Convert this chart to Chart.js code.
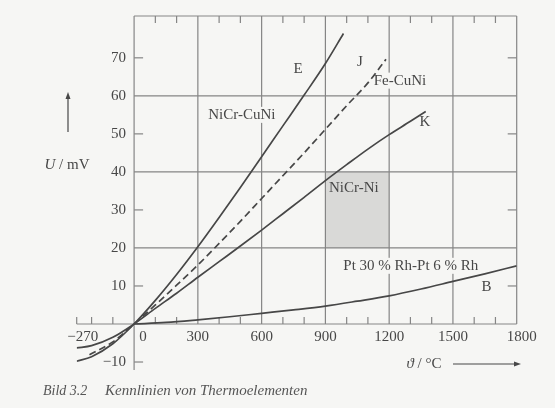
<!DOCTYPE html>
<html><head><meta charset="utf-8">
<script src="https://cdn.jsdelivr.net/npm/chart.js@4/dist/chart.umd.min.js"></script>
<style>html,body{margin:0;padding:0;background:#f6f6f4;}#wrap{width:555px;height:408px;position:relative;}</style>
</head><body><div id="wrap"><canvas id="c"></canvas></div>
<script>
// Temperatures (°C) and thermo-voltages (mV)
const tempE = [-270,-200,-100,0,100,200,300,400,500,600,700,800,900,985];
const voltE = [-9.8,-8.6,-5.2,0,6.2,13.0,20.3,28.0,35.9,44.0,52.1,60.2,68.5,76.4];
const tempJ = [-210,-100,0,100,200,300,400,500,600,700,800,900,1000,1100,1185];
const voltJ = [-8.1,-4.7,0,5.0,10.2,15.5,21.2,27.0,33.0,39.0,45.0,51.2,57.4,63.4,69.6];
const tempK = [-270,-200,-100,0,100,200,300,400,500,600,700,800,900,1000,1100,1200,1300,1372];
const voltK = [-6.3,-5.7,-3.5,0,4.1,8.1,12.3,16.4,20.5,24.7,29.0,33.3,37.7,41.9,46.0,49.8,53.3,55.9];
const tempB = [0,150,300,450,600,750,900,1050,1200,1350,1500,1650,1800];
const voltB = [0,0.4,1.1,1.9,2.8,3.7,4.7,6.0,7.4,9.2,11.2,13.2,15.3];

const xLabelTicks = [-270,0,300,600,900,1200,1500,1800];
const xMinorTicks = [-270,-200,-100,100,200,400,500,700,800,1000,1100,1300,1400,1600,1700];
const xGridLines = [300,600,900,1200,1500];
const yLabelTicks = [-10,10,20,30,40,50,60,70];
const yMinorTicks = [-10,10,30,50,70];
const yGridLines = [20,40,60];
const shadeTemp = [900,1200];
const shadeVolt = [20,40];

const curveNames = ['E','J','K','B'];
const labelTexts = ['NiCr-CuNi','E','J','Fe-CuNi','K','NiCr-Ni','Pt 30 % Rh-Pt 6 % Rh','B'];
const labelTemps = [507,772,1062,1251,1368,1034,1302,1658];
const labelVolts = [55.0,67.0,69.0,64.0,53.0,35.7,15.3,9.7];

const pts = (t,v) => t.map((x,i)=>({x:x,y:v[i]}));
const INK = '#474747', GRID = '#858585', BG = '#f6f6f4';
const SERIF = '"Liberation Serif","DejaVu Serif",serif';

const paper = {
  id:'paper',
  beforeDatasetsDraw(chart){
    const {ctx, scales:{x,y}} = chart;
    const X=v=>x.getPixelForValue(v), Y=v=>y.getPixelForValue(v);
    const top=Y(y.max), bot=Y(y.min), x0=X(0), y0=Y(0), xr=X(x.max), xl=X(x.min);
    ctx.save();
    ctx.fillStyle='#d9d9d7';
    ctx.fillRect(X(shadeTemp[0]),Y(shadeVolt[1]),X(shadeTemp[1])-X(shadeTemp[0]),Y(shadeVolt[0])-Y(shadeVolt[1]));
    ctx.strokeStyle=GRID; ctx.lineWidth=1.2;
    const line=(a,b,c,d)=>{ctx.beginPath();ctx.moveTo(a,b);ctx.lineTo(c,d);ctx.stroke();};
    xGridLines.forEach(v=>line(X(v),y0,X(v),top));
    yGridLines.forEach(v=>line(x0,Y(v),xr,Y(v)));
    line(x0,top,xr,top); line(xr,top,xr,y0);
    line(xl,y0,xr,y0); line(x0,top,x0,bot);
    xMinorTicks.forEach(v=>{line(X(v),y0,X(v),y0-7); if(v>0) line(X(v),top,X(v),top+7);});
    yMinorTicks.forEach(v=>{line(x0,Y(v),x0+9,Y(v)); if(v>0) line(xr,Y(v),xr-9,Y(v));});
    // tick labels
    ctx.fillStyle=INK; ctx.font='15px '+SERIF; ctx.textBaseline='middle';
    ctx.textAlign='center';
    xLabelTicks.forEach(v=>{
      let px=X(v); if(v===0) px+=9; else if(v===x.min) px+=6; else if(v===x.max) px+=5;
      ctx.fillText(String(v).replace('-','\u2212'),px,y0+13);
    });
    ctx.textAlign='right';
    yLabelTicks.forEach(v=>ctx.fillText(String(v).replace('-','\u2212'),x0-8,Y(v)));
    // curve labels with knockout
    ctx.textAlign='center';
    labelTexts.forEach((t,i)=>{
      const px=X(labelTemps[i]), py=Y(labelVolts[i]);
      const w=ctx.measureText(t).width;
      const inShade = labelTemps[i]>shadeTemp[0]&&labelTemps[i]<shadeTemp[1]&&labelVolts[i]>shadeVolt[0]&&labelVolts[i]<shadeVolt[1];
      if(!inShade){ctx.fillStyle=BG; ctx.fillRect(px-w/2-2,py-8,w+4,16);}
      ctx.fillStyle=INK; ctx.fillText(t,px,py);
    });
    // axis titles
    ctx.textAlign='left';
    const drawMixed=(parts,cx,cy)=>{
      let tw=0; parts.forEach(p=>{ctx.font=p[1]; tw+=ctx.measureText(p[0]).width;});
      let sx=cx-tw/2; parts.forEach(p=>{ctx.font=p[1]; ctx.fillText(p[0],sx,cy); sx+=ctx.measureText(p[0]).width;});
    };
    drawMixed([['U','italic 15px '+SERIF],[' / mV','15px '+SERIF]],67,165);
    drawMixed([['\u03D1','italic 15px '+SERIF],[' / \u00B0C','15px '+SERIF]],424,364);
    // arrows
    ctx.strokeStyle=INK; ctx.fillStyle=INK; ctx.lineWidth=1.2;
    line(68,132,68,97);
    ctx.beginPath(); ctx.moveTo(68,92); ctx.lineTo(65.5,99); ctx.lineTo(70.5,99); ctx.closePath(); ctx.fill();
    line(453,364,516,364);
    ctx.beginPath(); ctx.moveTo(521,364); ctx.lineTo(514,361.5); ctx.lineTo(514,366.5); ctx.closePath(); ctx.fill();
    // caption
    ctx.font='italic 14px '+SERIF; ctx.fillStyle='#555';
    ctx.fillText('Bild 3.2',43,391);
    ctx.font='italic 15px '+SERIF;
    ctx.fillText('Kennlinien von Thermoelementen',105,391);
    ctx.restore();
  }
};

const ds = (name,t,v,dash)=>({label:name,data:pts(t,v),borderColor:INK,borderWidth:1.7,pointRadius:0,
  cubicInterpolationMode:'monotone',borderDash:dash||[],fill:false});

new Chart(document.getElementById('c'),{
  type:'line',
  data:{datasets:[
    ds(curveNames[0],tempE,voltE),
    ds(curveNames[1],tempJ,voltJ,[7,4]),
    ds(curveNames[2],tempK,voltK),
    ds(curveNames[3],tempB,voltB)
  ]},
  options:{
    responsive:true, maintainAspectRatio:false, animation:false, events:[],
    layout:{padding:{left:76.7,top:16,right:38.3,bottom:38}},
    plugins:{legend:{display:false},tooltip:{enabled:false}},
    scales:{
      x:{type:'linear',min:-270,max:1800,display:false},
      y:{type:'linear',min:-12.1,max:81,display:false}
    }
  },
  plugins:[paper]
});
</script></body></html>
